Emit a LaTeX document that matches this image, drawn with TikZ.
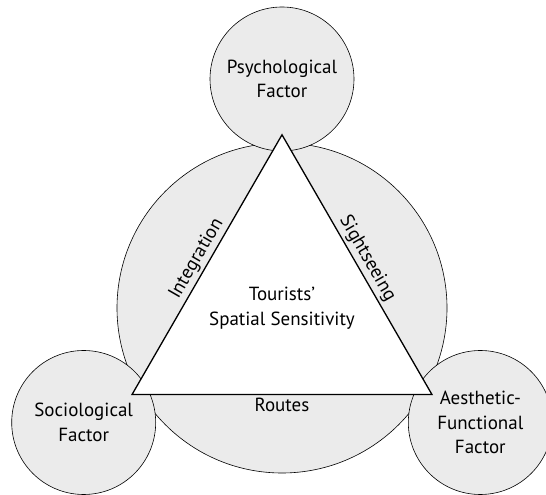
\documentclass[tikz,border=0pt]{standalone}
\usepackage{fontspec}
\setmainfont{PT Sans}
\definecolor{factorgray}{RGB}{235,235,235}
\newcommand{\labelfont}{\fontsize{19}{24.5}\selectfont}

\begin{document}
\begin{tikzpicture}[x=1pt, y=1pt,
    factor/.style={circle, draw, line width=0.6pt, fill=factorgray,
      minimum size=144pt, inner sep=0pt, align=center, font=\labelfont},
    sidelabel/.style={font=\labelfont, inner sep=3pt}]
    \useasboundingbox (0,0) rectangle (546,495);

    % the big circle behind everything
    \coordinate (centre) at (282,187);
    \node[circle, draw, line width=0.6pt, fill=factorgray, minimum size=330pt] (space) at (centre) {};

    % the three factors
    \node[factor] (psy) at (282,416) {Psychological\\Factor};
    \node[factor] (soc) at (83.7,72.5) {Sociological\\Factor};
    \node[factor] (aes) at (480.3,72.5) {Aesthetic-\\Functional\\Factor};

    % triangle
    \coordinate (top) at (282,360.2);
    \coordinate (left) at (132,100.4);
    \coordinate (right) at (432,100.4);
    \draw[line width=1.3pt, fill=white] (left) -- (top) -- (right) -- cycle;

    \path (left) -- (top) node[sidelabel, midway, sloped, above] (integ) {Integration};
    \path (top) -- (right) node[sidelabel, midway, sloped, above] (sight) {Sightseeing};
    \path (left) -- (right) node[sidelabel, midway, below] (routes) {Routes};

    \node[font=\labelfont, align=center] (tss) at (centre) {Tourists'\\Spatial Sensitivity};
\end{tikzpicture}
\end{document}
